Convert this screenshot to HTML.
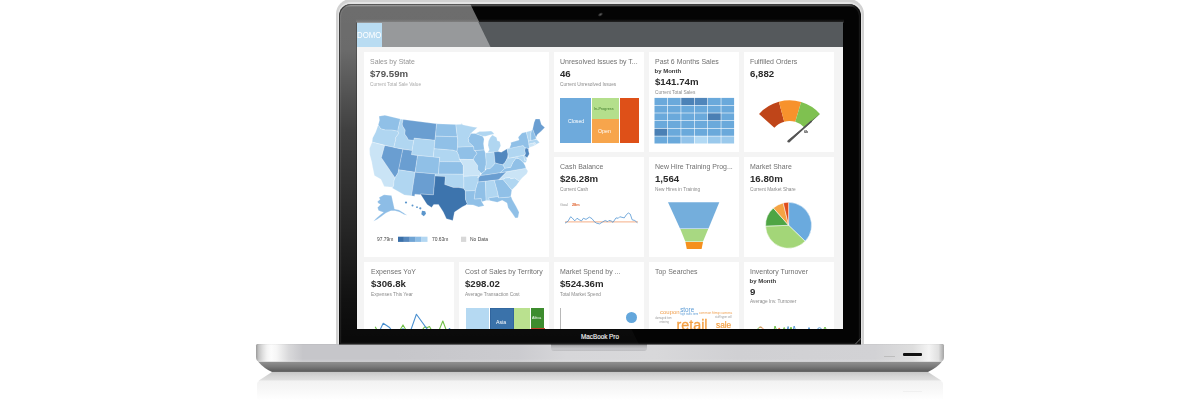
<!DOCTYPE html><html><head><meta charset="utf-8"><style>
*{margin:0;padding:0;box-sizing:border-box}
html,body{width:1200px;height:400px;overflow:hidden;background:#fff;font-family:"Liberation Sans",sans-serif;}
.a{position:absolute}
.t{position:absolute;white-space:nowrap;line-height:1}
.tile{position:absolute;background:#fff;width:90px;height:100px}
.ttl{position:absolute;font-size:8px;color:#707070;white-space:nowrap;line-height:1;transform:scaleX(.87);transform-origin:0 0}
.val{position:absolute;font-size:9.4px;font-weight:bold;color:#2b2b2b;white-space:nowrap;line-height:1;transform:scaleX(1.03);transform-origin:0 0}
.sub{position:absolute;font-size:5px;color:#8a8a8a;white-space:nowrap;line-height:1;transform:scaleX(.95);transform-origin:0 0}
.bym{position:absolute;font-size:6px;font-weight:bold;color:#3a3a3a;white-space:nowrap;line-height:1}
</style></head><body>
<svg class="a" style="left:0;top:0" width="1200" height="400">
<defs>
<linearGradient id="rf1" x1="0" y1="0" x2="0" y2="1"><stop offset="0" stop-color="#c6c6c6"/><stop offset=".5" stop-color="#d6d6d6"/><stop offset="1" stop-color="#e2e2e2"/></linearGradient>
<linearGradient id="rf2" x1="0" y1="0" x2="0" y2="1"><stop offset="0" stop-color="#f2f2f2"/><stop offset=".5" stop-color="#f8f8f8"/><stop offset="1" stop-color="#fff"/></linearGradient>
<linearGradient id="lip" x1="0" y1="0" x2="0" y2="1"><stop offset="0" stop-color="#e2e2e2"/><stop offset=".1" stop-color="#dcdcdc"/><stop offset=".2" stop-color="#8e8e8e"/><stop offset=".55" stop-color="#7a7a7a"/><stop offset=".9" stop-color="#5e5e5e"/><stop offset="1" stop-color="#6a6a6a"/></linearGradient>
<linearGradient id="face" x1="256" y1="0" x2="944" y2="0" gradientUnits="userSpaceOnUse">
<stop offset="0" stop-color="#9a9a9a"/><stop offset=".004" stop-color="#c4c4c4"/><stop offset=".01" stop-color="#e0e0e0"/><stop offset=".016" stop-color="#f4f4f4"/><stop offset=".022" stop-color="#fcfcfc"/><stop offset=".03" stop-color="#f6f6f6"/><stop offset=".048" stop-color="#d8d8da"/><stop offset=".068" stop-color="#c6c6ca"/><stop offset=".2" stop-color="#c6c6ca"/><stop offset=".38" stop-color="#cbcbcf"/><stop offset=".45" stop-color="#d6d6d9"/><stop offset=".58" stop-color="#d8d8da"/><stop offset=".7" stop-color="#d0d0d3"/><stop offset=".9" stop-color="#d2d2d5"/><stop offset=".955" stop-color="#dedede"/><stop offset=".978" stop-color="#f4f4f4"/><stop offset=".992" stop-color="#e0e0e0"/><stop offset="1" stop-color="#a4a4a4"/></linearGradient>
<linearGradient id="faceV" x1="0" y1="0" x2="0" y2="1"><stop offset="0" stop-color="#000" stop-opacity=".06"/><stop offset=".07" stop-color="#000" stop-opacity="0"/><stop offset=".85" stop-color="#fff" stop-opacity="0"/><stop offset="1" stop-color="#fff" stop-opacity=".15"/></linearGradient>
</defs>
<path d="M272 372 L928 372 L941.5 380.8 L258.5 380.8 Z" fill="url(#rf1)"/>
<path d="M259.5 380.8 L940.5 380.8 Q943 381.5 943 384 L943 400 L257 400 L257 384 Q257 381.5 259.5 380.8 Z" fill="url(#rf2)"/>
<path d="M257.5 360 L942.5 360 L942 361.5 Q938 367 928 372 L272 372 Q264 368.5 258 361.5 Z" fill="url(#lip)"/>
<path d="M256 345.5 Q256 344 257.5 344 L942.5 344 Q944 344 944 345.5 L944 357 Q944 361.5 940 361.5 L260 361.5 Q256 361.5 256 357 Z" fill="url(#face)"/>
<path d="M256 345.5 Q256 344 257.5 344 L942.5 344 Q944 344 944 345.5 L944 357 Q944 361.5 940 361.5 L260 361.5 Q256 361.5 256 357 Z" fill="url(#faceV)"/>
</svg>
<div class="a" style="left:551.3px;top:344px;width:96.2px;height:6.6px;border-radius:0 0 3px 3px;background:linear-gradient(#8e8e90,#b4b4b6 35%,#c8c8cb 70%,#bdbdc0)"></div>
<div class="a" style="left:903px;top:353.3px;width:18.8px;height:2.4px;border-radius:1px;background:#101010;box-shadow:0 0.5px 0.5px rgba(255,255,255,.5)"></div>
<div class="a" style="left:903px;top:390.5px;width:18.8px;height:1px;background:rgba(0,0,0,.035)"></div>
<div class="a" style="left:884px;top:356px;width:11px;height:1px;background:#bdbdbd"></div>
<div class="a" style="left:336px;top:-1px;width:528px;height:345px;border-radius:15px 15px 0 0;background:#d2d2d2"></div>
<div class="a" style="left:338px;top:2px;width:524px;height:342px;border-radius:13px 13px 0 0;background:#e4e4e4"></div>
<div class="a" style="left:339px;top:3.5px;width:522px;height:340.5px;border-radius:12px 12px 0 0;background:#040404"></div>
<div class="a" style="left:339px;top:3.5px;width:522px;height:340.5px;border-radius:12px 12px 0 0;overflow:hidden"><div class="a" style="left:0;top:0;width:522px;height:3.5px;background:linear-gradient(#8a8a8a,#3a3a3a 50%,rgba(0,0,0,0))"></div><div class="a" style="left:17px;top:15.5px;width:488px;height:3.5px;background:linear-gradient(rgba(0,0,0,0),#2e2e2e)"></div><div class="a" style="left:258.5px;top:9.5px;width:5px;height:3.2px;border-radius:50%;background:radial-gradient(#5a5a5a,#2a2a2a 60%,rgba(0,0,0,0));transform:rotate(-28deg)"></div><div class="a" style="left:0;top:0;width:522px;height:341px;background:linear-gradient(rgba(255,255,255,.42),rgba(255,255,255,.41) 13%,rgba(255,255,255,.24) 37%,rgba(255,255,255,.13) 67%,rgba(255,255,255,.05) 87%,rgba(255,255,255,.02));clip-path:polygon(0 0,131px 0,300px 341px,0 341px)"></div></div>
<div class="a" style="left:339px;top:3.5px;width:522px;height:341px;border-radius:12px 12px 0 0;box-shadow:inset 0 0 0 1px rgba(0,0,0,.5),inset 0 0 0 2.2px rgba(255,255,255,.08)"></div>
<div class="a" style="left:356px;top:21.5px;width:488px;height:308.5px;background:rgba(0,0,0,.22)"></div>
<svg class="a" style="left:0;top:0" width="1200" height="400"><line x1="855.5" y1="344" x2="861" y2="338.3" stroke="#9a9a9a" stroke-width="0.7"/></svg>
<div class="t" style="left:560px;top:334px;width:80px;text-align:center;font-size:6.3px;color:#f2f2f2;-webkit-text-stroke:0.15px #f2f2f2">MacBook Pro</div>
<div class="a" style="left:357px;top:22px;width:486px;height:307px;background:#f4f4f4;overflow:hidden;will-change:transform"><div class="a" style="left:-357px;top:-22px;width:1200px;height:400px">
<div class="a" style="left:357px;top:22px;width:486px;height:25px;background:#55595c"></div>
<div class="a" style="left:357px;top:22px;width:486px;height:25px;background:rgba(255,255,255,.39);clip-path:polygon(0 0,121.3px 0,133.5px 25px,0 25px)"></div>
<div class="a" style="left:357px;top:22.5px;width:24.5px;height:24.5px;background:#b9dcf2"></div>
<div class="t" style="left:356.6px;top:30.6px;font-size:9.3px;color:#fff;transform:scaleX(.84);transform-origin:0 0">DOMO</div>
<div class="tile" style="left:364px;top:52px;width:185px;height:205px"></div>
<div class="tile" style="left:554px;top:52px;width:90px;height:100px"></div>
<div class="tile" style="left:554px;top:157px;width:90px;height:100px"></div>
<div class="tile" style="left:649px;top:52px;width:90px;height:100px"></div>
<div class="tile" style="left:649px;top:157px;width:90px;height:100px"></div>
<div class="tile" style="left:744px;top:52px;width:90px;height:100px"></div>
<div class="tile" style="left:744px;top:157px;width:90px;height:100px"></div>
<div class="tile" style="left:364px;top:262px;width:90px;height:100px"></div>
<div class="tile" style="left:459px;top:262px;width:90px;height:100px"></div>
<div class="tile" style="left:554px;top:262px;width:90px;height:100px"></div>
<div class="tile" style="left:649px;top:262px;width:90px;height:100px"></div>
<div class="tile" style="left:744px;top:262px;width:90px;height:100px"></div>
<div class="ttl" style="left:370px;top:58.23px;color:#949494">Sales by State</div>
<div class="val" style="left:370px;top:68.84px;color:#555">$79.59m</div>
<div class="sub" style="left:370px;top:81.77px;color:#aaa">Current Total Sale Value</div>
<div class="ttl" style="left:560px;top:58.23px;">Unresolved Issues by T...</div>
<div class="val" style="left:560px;top:69.04px;">46</div>
<div class="sub" style="left:560px;top:81.77px;">Current Unresolved Issues</div>
<div class="ttl" style="left:654.5px;top:58.03px;">Past 6 Months Sales</div>
<div class="bym" style="left:654.5px;top:67.52px;">by Month</div>
<div class="val" style="left:654.5px;top:77.14px;">$141.74m</div>
<div class="sub" style="left:654.5px;top:89.87px;">Current Total Sales</div>
<div class="ttl" style="left:749.5px;top:58.23px;">Fulfilled Orders</div>
<div class="val" style="left:749.5px;top:69.04px;">6,882</div>
<div class="ttl" style="left:560px;top:163.23px;">Cash Balance</div>
<div class="val" style="left:560px;top:174.04px;">$26.28m</div>
<div class="sub" style="left:560px;top:186.77px;">Current Cash</div>
<div class="ttl" style="left:654.5px;top:163.23px;">New Hire Training Prog...</div>
<div class="val" style="left:654.5px;top:174.04px;">1,564</div>
<div class="sub" style="left:654.5px;top:186.77px;">New Hires in Training</div>
<div class="ttl" style="left:749.5px;top:163.23px;">Market Share</div>
<div class="val" style="left:749.5px;top:174.04px;">16.80m</div>
<div class="sub" style="left:749.5px;top:186.77px;">Current Market Share</div>
<div class="ttl" style="left:370.5px;top:267.73px;">Expenses YoY</div>
<div class="val" style="left:370.5px;top:279.04px;">$306.8k</div>
<div class="sub" style="left:370.5px;top:291.77px;">Expenses This Year</div>
<div class="ttl" style="left:465px;top:267.73px;">Cost of Sales by Territory</div>
<div class="val" style="left:465px;top:279.04px;">$298.02</div>
<div class="sub" style="left:465px;top:291.77px;">Average Transaction Cost</div>
<div class="ttl" style="left:560px;top:267.73px;">Market Spend by ...</div>
<div class="val" style="left:560px;top:279.04px;">$524.36m</div>
<div class="sub" style="left:560px;top:291.77px;">Total Market Spend</div>
<div class="ttl" style="left:654.5px;top:267.73px;">Top Searches</div>
<div class="ttl" style="left:749.5px;top:267.73px;">Inventory Turnover</div>
<div class="bym" style="left:749.5px;top:277.92px;">by Month</div>
<div class="val" style="left:749.5px;top:287.04px;">9</div>
<div class="sub" style="left:749.5px;top:298.77px;">Average Inv. Turnover</div>
<svg class="a" style="left:0;top:0" width="1200" height="400" viewBox="0 0 1200 400">
<g stroke="#fff" stroke-width="0.35" stroke-linejoin="round" stroke-opacity="0.65">
<path d="M379.0 116.2 L384.9 115.2 L400.5 118.9 L398.0 129.5 L398.0 131.2 L392.0 130.1 L385.3 130.0 L380.7 128.8 L378.2 125.1 L379.5 120.2Z" fill="#90c0e7"/>
<path d="M378.2 125.1 L380.7 128.8 L385.3 130.0 L392.0 130.1 L398.0 131.2 L398.7 133.4 L395.5 137.9 L395.8 139.3 L393.8 147.4 L372.1 142.1 L372.6 137.9 L375.6 132.2Z" fill="#b0d6f1"/>
<path d="M372.1 142.1 L384.7 145.4 L381.4 157.7 L395.0 177.8 L394.1 180.6 L393.6 186.1 L392.7 187.2 L384.2 186.4 L380.9 179.3 L374.4 175.6 L372.5 166.4 L371.7 161.8 L369.8 154.7 L369.5 148.4Z" fill="#cae4f6"/>
<path d="M384.7 145.4 L402.9 149.2 L398.0 173.1 L395.0 177.8 L381.4 157.7Z" fill="#6a9ed1"/>
<path d="M400.5 118.9 L403.2 119.5 L402.2 123.9 L402.7 126.1 L405.2 130.0 L404.9 134.2 L407.2 137.5 L408.3 139.8 L413.9 140.2 L412.1 150.6 L393.8 147.4 L395.8 139.3 L395.5 137.9 L398.7 133.4 L398.0 131.2 L398.0 129.5Z" fill="#b0d6f1"/>
<path d="M403.2 119.5 L436.6 123.8 L435.0 140.3 L414.2 138.2 L413.9 140.2 L408.3 139.8 L407.2 137.5 L404.9 134.2 L405.2 130.0 L402.7 126.1 L402.2 123.9Z" fill="#6a9ed1"/>
<path d="M414.2 138.2 L435.0 140.3 L433.3 157.0 L411.4 154.7Z" fill="#b0d6f1"/>
<path d="M402.9 149.2 L412.1 150.6 L411.4 154.7 L417.6 155.6 L415.1 172.2 L398.6 169.8Z" fill="#6a9ed1"/>
<path d="M417.6 155.6 L439.7 157.4 L438.4 174.2 L415.1 172.2Z" fill="#90c0e7"/>
<path d="M398.6 169.8 L415.1 172.2 L411.5 195.8 L404.4 194.9 L392.2 188.0 L393.6 186.1 L394.1 180.6 L395.0 177.8 L398.0 173.1Z" fill="#b0d6f1"/>
<path d="M415.1 172.2 L435.2 174.0 L433.4 194.9 L420.6 194.0 L420.9 194.8 L414.9 194.2 L414.6 196.2 L411.5 195.8Z" fill="#6a9ed1"/>
<path d="M436.6 123.8 L455.8 124.4 L457.3 136.8 L435.4 136.2Z" fill="#90c0e7"/>
<path d="M435.4 136.2 L457.3 136.8 L457.7 139.7 L457.6 147.2 L457.0 151.4 L452.7 150.2 L434.2 148.7Z" fill="#90c0e7"/>
<path d="M434.2 148.7 L452.7 150.2 L457.0 151.4 L458.9 155.6 L459.5 159.3 L461.0 161.8 L439.4 161.6 L439.7 157.4 L433.3 157.0Z" fill="#b0d6f1"/>
<path d="M439.4 161.6 L461.0 161.8 L463.3 165.5 L463.4 174.3 L438.4 174.2Z" fill="#90c0e7"/>
<path d="M435.2 174.0 L463.4 174.3 L463.9 181.0 L463.8 188.6 L458.5 187.5 L453.3 187.5 L447.5 185.4 L444.7 184.6 L445.2 176.5 L435.1 176.1Z" fill="#b0d6f1"/>
<path d="M435.1 176.1 L445.2 176.5 L444.7 184.6 L447.5 185.4 L453.3 187.5 L458.5 187.5 L463.8 188.6 L465.4 191.1 L465.5 199.4 L467.2 203.5 L466.4 204.8 L462.0 207.0 L454.5 212.1 L452.8 220.4 L446.4 218.7 L443.3 212.0 L438.5 204.4 L433.7 204.6 L431.6 207.4 L427.1 204.6 L420.9 194.8 L420.6 194.0 L433.4 194.9Z" fill="#3d74ad"/>
<path d="M455.8 124.4 L461.6 124.3 L461.6 122.7 L462.6 124.7 L473.4 127.1 L477.4 127.6 L470.7 133.4 L469.9 136.0 L468.2 138.1 L468.9 140.6 L468.6 141.9 L473.6 146.6 L457.6 147.2 L457.7 139.7 L457.3 136.8Z" fill="#b0d6f1"/>
<path d="M457.6 147.2 L473.6 146.6 L474.1 150.3 L475.7 151.5 L477.0 153.5 L474.4 157.0 L473.5 159.6 L459.5 159.3 L458.9 155.6 L457.0 151.4Z" fill="#90c0e7"/>
<path d="M459.5 159.3 L473.5 159.6 L474.5 161.2 L477.7 165.6 L477.5 169.4 L480.4 172.5 L480.7 177.5 L477.6 177.8 L478.4 175.6 L463.4 176.4 L463.3 165.5 L461.0 161.8Z" fill="#cae4f6"/>
<path d="M463.4 176.4 L478.4 175.6 L477.6 177.8 L480.0 177.6 L477.2 184.1 L475.4 190.5 L465.4 191.1 L463.8 188.6 L463.9 181.0Z" fill="#b0d6f1"/>
<path d="M465.4 191.1 L475.4 190.5 L474.3 199.0 L481.2 198.5 L481.8 201.8 L484.2 205.7 L478.7 207.0 L473.1 204.9 L466.4 204.8 L467.2 203.5 L465.5 199.4Z" fill="#90c0e7"/>
<path d="M468.2 138.1 L469.9 136.0 L470.7 133.4 L475.4 133.5 L482.7 136.2 L484.1 139.0 L483.5 143.7 L484.3 149.9 L475.7 150.6 L474.1 150.3 L473.6 146.6 L468.6 141.9 L468.9 140.6Z" fill="#90c0e7"/>
<path d="M475.7 150.6 L484.3 149.9 L485.5 153.1 L486.2 161.9 L486.1 164.8 L485.1 168.7 L485.0 170.8 L481.8 173.2 L480.4 172.5 L477.5 169.4 L477.7 165.6 L474.5 161.2 L473.5 159.6 L474.4 157.0 L477.0 153.5 L475.7 151.5Z" fill="#90c0e7"/>
<path d="M487.7 152.6 L494.0 152.1 L498.0 151.5 L499.3 148.8 L500.7 145.7 L499.8 141.6 L497.3 140.7 L496.6 137.4 L492.4 135.1 L490.2 137.5 L488.5 141.0 L488.0 145.3 L489.3 149.7Z" fill="#b0d6f1"/>
<path d="M475.4 133.5 L479.4 131.6 L482.9 131.6 L491.1 131.1 L492.6 132.1 L494.3 134.0 L489.7 135.0 L485.7 136.3 L482.7 136.2Z" fill="#b0d6f1"/>
<path d="M485.5 152.9 L494.0 152.1 L495.2 162.9 L493.1 165.7 L490.1 168.6 L486.5 169.0 L485.1 168.7 L486.1 164.8 L486.2 161.9Z" fill="#b0d6f1"/>
<path d="M494.0 152.1 L498.0 151.5 L501.3 152.3 L507.2 148.8 L508.1 154.6 L507.8 157.2 L505.3 162.3 L502.7 164.8 L497.9 163.8 L495.2 162.9Z" fill="#5288bf"/>
<path d="M480.6 175.5 L485.4 175.0 L500.0 172.8 L505.1 168.2 L502.7 164.8 L497.9 163.8 L495.2 162.9 L493.1 165.7 L490.1 168.6 L486.5 169.0 L485.0 170.8 L481.8 173.2Z" fill="#90c0e7"/>
<path d="M478.2 182.0 L498.8 179.8 L506.7 171.8 L500.0 172.8 L485.4 175.0 L480.6 175.5 L478.6 177.7Z" fill="#6a9ed1"/>
<path d="M478.2 182.0 L485.4 181.3 L486.1 200.6 L481.8 201.8 L481.2 198.5 L474.3 199.0 L475.4 190.5 L477.2 184.1Z" fill="#90c0e7"/>
<path d="M485.4 181.3 L494.3 180.3 L497.7 192.5 L498.2 196.7 L488.8 197.8 L489.4 200.6 L486.1 200.6Z" fill="#b0d6f1"/>
<path d="M494.3 180.3 L502.9 179.2 L511.8 190.0 L510.9 196.0 L509.2 197.2 L498.7 197.9 L497.7 192.5Z" fill="#90c0e7"/>
<path d="M488.8 197.8 L498.2 196.7 L498.7 197.9 L509.2 197.2 L510.9 196.0 L512.2 199.6 L516.2 206.5 L519.1 212.2 L518.0 217.8 L515.3 217.9 L512.3 213.4 L508.1 207.8 L507.0 203.0 L502.2 200.3 L497.3 202.2 L489.4 200.6Z" fill="#90c0e7"/>
<path d="M502.9 179.2 L505.5 177.9 L509.9 177.6 L510.8 178.7 L514.6 178.0 L519.4 181.2 L516.5 185.3 L511.8 190.0Z" fill="#b0d6f1"/>
<path d="M498.8 179.8 L502.9 179.2 L505.5 177.9 L509.9 177.6 L510.8 178.7 L514.6 178.0 L519.4 181.2 L522.3 177.8 L526.8 173.8 L527.9 171.0 L526.0 168.2 L506.7 171.8Z" fill="#cae4f6"/>
<path d="M500.0 172.8 L526.0 168.2 L525.1 165.6 L523.4 162.6 L520.5 159.8 L518.6 158.5 L515.9 158.2 L512.7 162.7 L510.7 167.3 L505.1 168.2Z" fill="#90c0e7"/>
<path d="M502.7 164.8 L505.1 168.2 L510.7 167.3 L512.7 162.7 L515.9 158.2 L517.9 158.2 L516.3 156.8 L508.6 158.3 L508.1 154.6 L507.8 157.2 L505.3 162.3Z" fill="#b0d6f1"/>
<path d="M511.8 157.6 L523.6 155.2 L524.7 160.4 L527.1 159.8 L525.8 162.5 L523.4 162.6 L520.5 159.8 L518.6 158.5 L517.9 158.2 L516.3 156.8Z" fill="#b0d6f1"/>
<path d="M523.6 155.2 L524.8 154.6 L527.1 159.8 L524.7 160.4Z" fill="#b0d6f1"/>
<path d="M507.2 148.8 L523.1 145.5 L524.5 147.3 L525.6 147.7 L524.8 150.3 L525.5 153.5 L524.8 154.6 L523.6 155.2 L508.6 158.2Z" fill="#b0d6f1"/>
<path d="M525.6 147.7 L528.4 148.5 L528.5 150.7 L529.3 153.9 L527.1 157.7 L524.7 155.9 L525.5 153.5 L524.8 150.3Z" fill="#5288bf"/>
<path d="M509.4 148.4 L523.1 145.5 L524.5 147.3 L525.6 147.7 L528.4 148.5 L529.4 147.4 L529.2 144.0 L526.3 131.9 L522.0 133.0 L518.2 137.2 L519.1 140.0 L510.8 142.6 L511.0 144.3Z" fill="#90c0e7"/>
<path d="M529.4 147.4 L534.5 145.7 L533.8 142.8 L528.6 144.0Z" fill="#cae4f6"/>
<path d="M534.5 145.7 L536.5 144.3 L535.0 142.5 L533.8 142.8Z" fill="#cae4f6"/>
<path d="M528.6 144.0 L533.8 142.8 L535.0 142.5 L536.5 144.3 L539.6 142.5 L536.8 139.4 L534.6 139.6 L530.9 140.4 L528.5 141.0Z" fill="#b0d6f1"/>
<path d="M528.5 141.0 L530.9 140.4 L530.8 133.7 L531.6 130.5 L526.3 131.9Z" fill="#b0d6f1"/>
<path d="M530.9 140.4 L534.6 139.6 L536.5 138.2 L535.9 137.5 L532.7 128.9 L531.6 130.5 L530.8 133.7Z" fill="#90c0e7"/>
<path d="M535.9 137.5 L537.4 134.5 L541.2 131.2 L544.8 127.4 L541.4 124.6 L539.7 119.1 L535.5 118.9 L534.1 122.5 L532.7 128.9Z" fill="#6a9ed1"/>
<path d="M379 197.5 L384 194.8 L391.5 195.5 L394.5 209 L399 210 L403 212.5 L407 215.3 L404 214.6 L399.5 212 L395 210.8 L391 210.8 L388 212 L385.5 213.3 L382 216 L377 219.5 L373.5 221.3 L376 218.5 L380 215 L383.5 212.3 L381 211.5 L378.5 210.5 L377.5 207.5 L380.5 204.5 L378 203 L377.5 201.5 L380 199.5Z" fill="#8dbde6"/>
</g>
<g fill="#5b96cc">
<circle cx="406" cy="202.5" r="1.1"/><circle cx="412.5" cy="205.5" r="1"/><circle cx="417" cy="207.2" r="0.9"/><circle cx="420.3" cy="208.3" r="1.1"/><path d="M422 210.8 L425.2 211.3 L426 213.8 L423.8 216.2 L421.3 214.2Z"/>
</g>
<g fill="#3a6fa8"><rect x="398" y="236.7" width="5.9" height="5.2" fill="#3a6fa8"/><rect x="403.9" y="236.7" width="5.9" height="5.2" fill="#5587bd"/><rect x="409.8" y="236.7" width="5.9" height="5.2" fill="#6fa4d4"/><rect x="415.7" y="236.7" width="5.9" height="5.2" fill="#8cbde6"/><rect x="421.6" y="236.7" width="5.9" height="5.2" fill="#b3d7f2"/>
<rect x="461" y="236.7" width="5.2" height="5.2" fill="#d8d8d8"/></g>
</svg>
<div class="sub" style="left:376.5px;top:237.40px;color:#444;font-size:5.2px">97.79m</div>
<div class="sub" style="left:431.8px;top:237.40px;color:#444;font-size:5.2px">70.63m</div>
<div class="sub" style="left:470.2px;top:237.40px;color:#444;font-size:5.2px">No Data</div>
<div class="a" style="left:560px;top:98px;width:31px;height:45.2px;background:#6eaadc"></div>
<div class="a" style="left:591.5px;top:98px;width:27.5px;height:20.5px;background:#b4df8c"></div>
<div class="a" style="left:591.5px;top:118.7px;width:27.5px;height:24.5px;background:#f7a54c"></div>
<div class="a" style="left:619.7px;top:98px;width:19.5px;height:45.2px;background:#de5018"></div>
<div class="sub" style="left:567.5px;top:118.84px;color:#fff;font-size:5.5px">Closed</div>
<div class="sub" style="left:593.5px;top:106.61px;color:#3e7a2a;font-size:4px">In-Progress</div>
<div class="sub" style="left:598px;top:128.84px;color:#fff;font-size:5.5px">Open</div>
<svg class="a" style="left:0;top:0" width="1200" height="400"><rect x="654.50" y="97.90" width="12.77" height="7.10" fill="#6aa9db"/><rect x="667.87" y="97.90" width="12.77" height="7.10" fill="#6aa9db"/><rect x="681.23" y="97.90" width="12.77" height="7.10" fill="#4c82b7"/><rect x="694.60" y="97.90" width="12.77" height="7.10" fill="#5086bb"/><rect x="707.97" y="97.90" width="12.77" height="7.10" fill="#6aa9db"/><rect x="721.33" y="97.90" width="12.77" height="7.10" fill="#6aa9db"/><rect x="654.50" y="105.60" width="12.77" height="7.10" fill="#6aa9db"/><rect x="667.87" y="105.60" width="12.77" height="7.10" fill="#6aa9db"/><rect x="681.23" y="105.60" width="12.77" height="7.10" fill="#6aa9db"/><rect x="694.60" y="105.60" width="12.77" height="7.10" fill="#6aa9db"/><rect x="707.97" y="105.60" width="12.77" height="7.10" fill="#6aa9db"/><rect x="721.33" y="105.60" width="12.77" height="7.10" fill="#6aa9db"/><rect x="654.50" y="113.30" width="12.77" height="7.10" fill="#6aa9db"/><rect x="667.87" y="113.30" width="12.77" height="7.10" fill="#6aa9db"/><rect x="681.23" y="113.30" width="12.77" height="7.10" fill="#6aa9db"/><rect x="694.60" y="113.30" width="12.77" height="7.10" fill="#6aa9db"/><rect x="707.97" y="113.30" width="12.77" height="7.10" fill="#4a7fb4"/><rect x="721.33" y="113.30" width="12.77" height="7.10" fill="#6aa9db"/><rect x="654.50" y="121.00" width="12.77" height="7.10" fill="#6aa9db"/><rect x="667.87" y="121.00" width="12.77" height="7.10" fill="#6aa9db"/><rect x="681.23" y="121.00" width="12.77" height="7.10" fill="#6aa9db"/><rect x="694.60" y="121.00" width="12.77" height="7.10" fill="#6aa9db"/><rect x="707.97" y="121.00" width="12.77" height="7.10" fill="#6aa9db"/><rect x="721.33" y="121.00" width="12.77" height="7.10" fill="#6aa9db"/><rect x="654.50" y="128.70" width="12.77" height="7.10" fill="#4a80b5"/><rect x="667.87" y="128.70" width="12.77" height="7.10" fill="#6aa9db"/><rect x="681.23" y="128.70" width="12.77" height="7.10" fill="#6aa9db"/><rect x="694.60" y="128.70" width="12.77" height="7.10" fill="#6aa9db"/><rect x="707.97" y="128.70" width="12.77" height="7.10" fill="#6aa9db"/><rect x="721.33" y="128.70" width="12.77" height="7.10" fill="#6aa9db"/><rect x="654.50" y="136.40" width="12.77" height="7.10" fill="#6aa9db"/><rect x="667.87" y="136.40" width="12.77" height="7.10" fill="#6aa9db"/><rect x="681.23" y="136.40" width="12.77" height="7.10" fill="#92c3ea"/><rect x="694.60" y="136.40" width="12.77" height="7.10" fill="#b2d9f4"/><rect x="707.97" y="136.40" width="12.77" height="7.10" fill="#9ac9ec"/><rect x="721.33" y="136.40" width="12.77" height="7.10" fill="#9ac9ec"/></svg>
<svg class="a" style="left:0;top:0" width="1200" height="400"><path d="M759.03 113.97 A41 41 0 0 1 778.89 101.80 L784.22 121.70 A20.4 20.4 0 0 0 774.34 127.75Z" fill="#bf4519"/><path d="M778.89 101.80 A41 41 0 0 1 801.14 102.09 L795.29 121.84 A20.4 20.4 0 0 0 784.22 121.70Z" fill="#f7922c"/><path d="M801.14 102.09 A41 41 0 0 1 819.97 113.97 L804.66 127.75 A20.4 20.4 0 0 0 795.29 121.84Z" fill="#7fc150"/><path d="M787.92 140.31 L819.93 113.86 L789.58 142.19Z" fill="#555"/><circle cx="788.75" cy="141.25" r="1.3" fill="#555"/><line x1="788.75" y1="141.25" x2="811.29" y2="121.45" stroke="#555" stroke-width="1.6" stroke-linecap="round"/></svg>
<div class="sub" style="left:804px;top:129.61px;color:#333;font-size:4px;font-weight:bold">6k</div>
<div class="sub" style="left:560px;top:202.61px;color:#999;font-size:4px">Goal</div>
<div class="sub" style="left:572px;top:202.61px;color:#e0602a;font-size:4px;font-weight:bold">28m</div>
<svg class="a" style="left:0;top:0" width="1200" height="400"><line x1="565" y1="221.9" x2="638" y2="221.9" stroke="#f39a68" stroke-width="0.8"/><path d="M565.0 223.13 L568.0 221.26 L570.63 216.75 L572.13 217.88 L574.75 220.88 L577.01 218.26 L579.26 219.76 L581.51 220.88 L583.38 218.26 L586.01 219.38 L589.38 217.13 L592.01 218.63 L594.26 221.63 L596.51 223.13 L599.51 223.88 L602.51 222.01 L605.14 220.51 L607.76 221.63 L608.89 220.51 L611.14 220.88 L613.01 222.38 L616.02 217.88 L618.27 218.26 L619.77 216.75 L624.27 217.88 L626.52 214.5 L628.39 213.0 L630.27 214.13 L632.14 219.76 L634.77 220.51 L637.4 222.76" fill="none" stroke="#4a90d0" stroke-width="0.75" stroke-linejoin="round"/></svg>
<svg class="a" style="left:0;top:0" width="1200" height="400"><path d="M668 202.2 L719.3 202.2 L708.5 228.5 L680 228.5Z" fill="#74aedc"/><path d="M680.3 229 L708.2 229 L703 241.6 L685.3 241.6Z" fill="#a8d882"/><path d="M685.4 242 L703 242 L701.6 249 L686.8 249Z" fill="#f5901e"/></svg>
<svg class="a" style="left:0;top:0" width="1200" height="400"><path d="M788.6 225.3 L788.60 202.30 A23 23 0 0 1 805.14 241.28Z" fill="#6aaade" stroke="#fff" stroke-width="0.5"/><path d="M788.6 225.3 L805.14 241.28 A23 23 0 0 1 765.61 226.10Z" fill="#a3d678" stroke="#fff" stroke-width="0.5"/><path d="M788.6 225.3 L765.61 226.10 A23 23 0 0 1 773.36 208.07Z" fill="#4ea544" stroke="#fff" stroke-width="0.5"/><path d="M788.6 225.3 L773.36 208.07 A23 23 0 0 1 783.27 202.93Z" fill="#f5a444" stroke="#fff" stroke-width="0.5"/><path d="M788.6 225.3 L783.27 202.93 A23 23 0 0 1 788.60 202.30Z" fill="#e04e1c" stroke="#fff" stroke-width="0.5"/></svg>
<svg class="a" style="left:0;top:0" width="1200" height="400"><g fill="none" stroke="#72c04a" stroke-width="1.1" stroke-linejoin="round"><path d="M375.2 326.8 L377.5 331"/><path d="M399.5 331 L403 324.9 L406.5 331"/><path d="M421.5 331 L424.5 327 L427.5 327.6 L429.5 326.5 L432 331"/><path d="M438.8 331 L442.8 321 L446.6 331"/></g><g fill="none" stroke="#4a90d0" stroke-width="1.1" stroke-linejoin="round"><path d="M379.5 331 L383.2 323.2 L389.6 327.5 L392 331"/><path d="M410.5 331 L416.4 314.2 L428.5 331"/></g><circle cx="403" cy="329" r="1" fill="#6aaae0"/><circle cx="449.5" cy="329" r="0.9" fill="#4a90d0"/></svg>
<div class="a" style="left:465.7px;top:308px;width:23px;height:25px;background:#b5d9f2"></div>
<div class="a" style="left:489.5px;top:308px;width:24px;height:25px;background:#3a72aa;box-shadow:inset 0 0 0 0.6px #2c5e96"></div>
<div class="a" style="left:514px;top:308px;width:16px;height:25px;background:#bae18f"></div>
<div class="a" style="left:530.5px;top:308px;width:13.8px;height:20px;background:#3d8c2e"></div>
<div class="a" style="left:530.5px;top:328px;width:14px;height:6px;background:#c0442a"></div>
<div class="sub" style="left:496px;top:320.34px;color:#fff;font-size:5.5px">Asia</div>
<div class="sub" style="left:531.5px;top:316.78px;color:#fff;font-size:3.8px">Africa</div>
<div class="a" style="left:559.5px;top:307.7px;width:0.8px;height:25px;background:#b8b8b8"></div>
<div class="a" style="left:626px;top:312px;width:11.4px;height:11.4px;border-radius:50%;background:#64a7dc"></div>
<div class="t" style="left:660px;top:309.22px;font-size:6px;color:#f0a050">coupon</div>
<div class="t" style="left:680.2px;top:307.27px;font-size:6.3px;color:#5b9bd5">store</div>
<div class="t" style="left:680.3px;top:314.40px;font-size:2.6px;color:#5b9bd5">high traffic term</div>
<div class="t" style="left:699px;top:311.79px;font-size:3.2px;color:#f0a050">common</div>
<div class="t" style="left:712px;top:311.54px;font-size:3.5px;color:#f0a050">fitmp camera</div>
<div class="t" style="left:655.3px;top:318.10px;font-size:2.6px;color:#9a9a9a">damaged item</div>
<div class="t" style="left:659.5px;top:321.80px;font-size:2.6px;color:#9a9a9a">entering</div>
<div class="t" style="left:715px;top:317.00px;font-size:2.6px;color:#9a9a9a">stuff hyper sell</div>
<div class="t" style="left:676.5px;top:318.20px;font-size:14.3px;color:#f4a044;-webkit-text-stroke:0.3px #f4a044">retail</div>
<div class="t" style="left:716px;top:321.47px;font-size:8.3px;color:#f4a044;-webkit-text-stroke:0.2px #f4a044">sale</div>
<svg class="a" style="left:0;top:0" width="1200" height="400"><path d="M757 330 Q759.5 325.5 762 328" stroke="#72c04a" fill="none" stroke-width="1"/><path d="M759 328 Q761.5 325.5 764 330" stroke="#f08a60" fill="none" stroke-width="1"/><path d="M774 330 L775 326 L776.5 330" stroke="#72c04a" fill="none" stroke-width="1"/><circle cx="779.2" cy="328.8" r="1" fill="#f08a60"/><path d="M783 330 L784.2 327.5 L785.4 330 M790 330 L791 327 L792 330" stroke="#72c04a" fill="none" stroke-width="1"/><path d="M787 330 L788.1 326.5 L789.2 330 M793 330 L794.2 326 L795.4 330 M808 330 L809 327.5 L810 330 M816.5 330 Q819.5 325.5 822.5 330" stroke="#5b9bd5" fill="none" stroke-width="1"/><path d="M823.5 330 L825 327 L826.5 330" stroke="#72c04a" fill="none" stroke-width="1"/></svg>
</div></div>
</body></html>
